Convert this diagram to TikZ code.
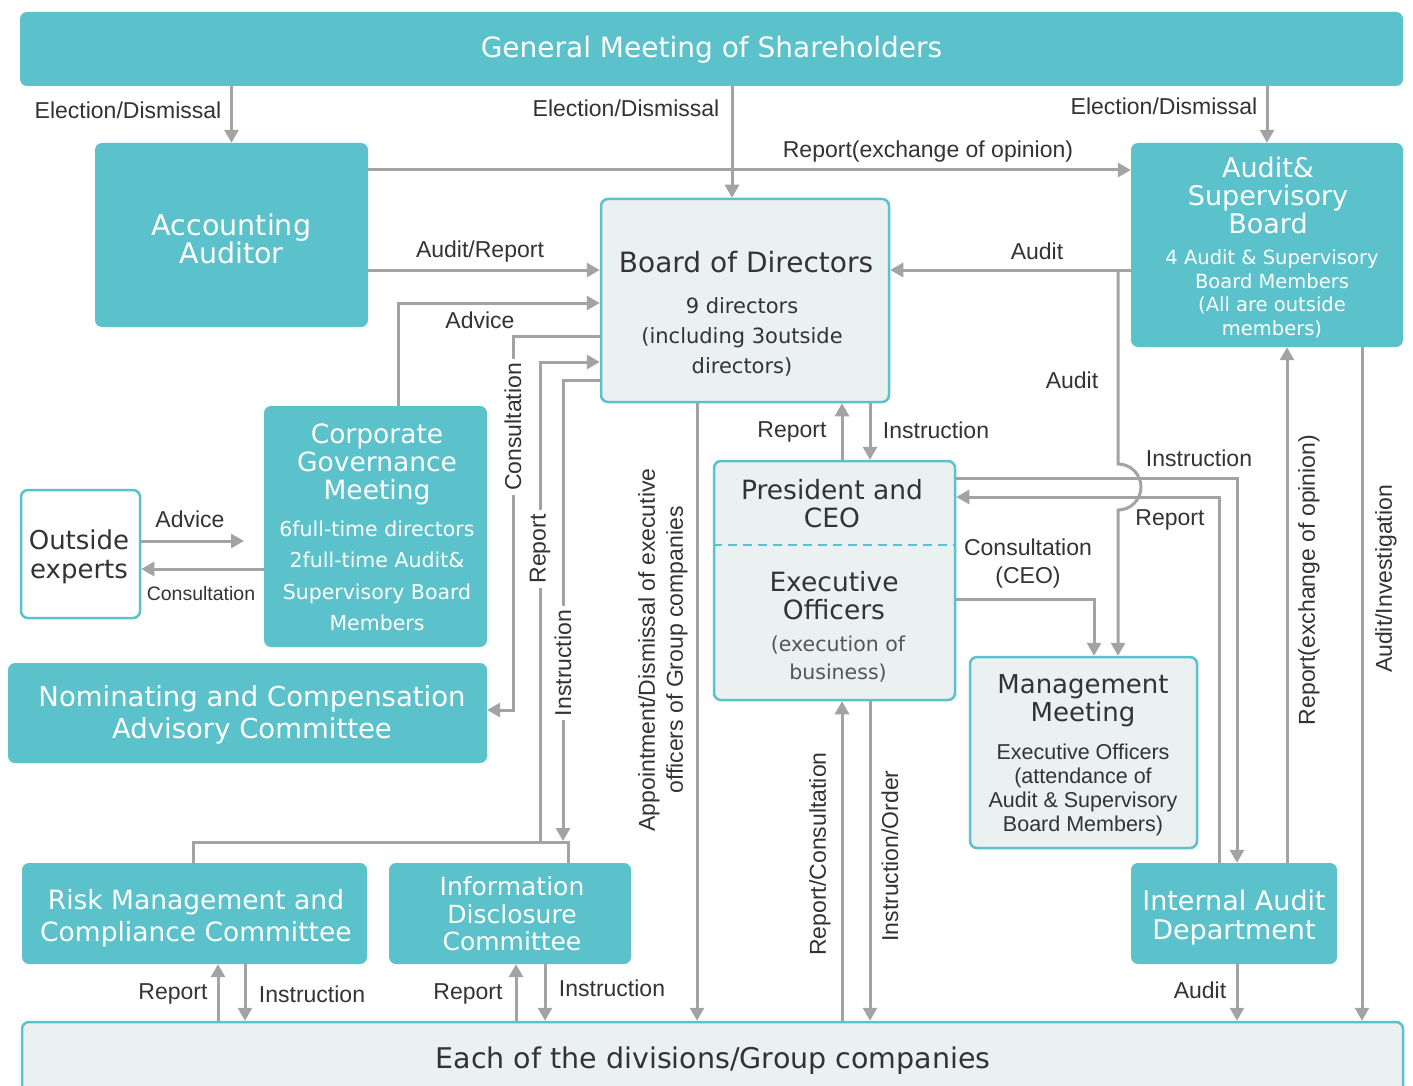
\documentclass[tikz,border=0pt]{standalone}
\usepackage{fontspec}
\setmainfont{DejaVu Sans}
\newfontfamily\bxf{DejaVu Sans}
\newfontfamily\lbf{Liberation Sans}
\usetikzlibrary{arrows.meta}
\definecolor{teal1}{HTML}{5BC2CB}
\definecolor{lightfill}{HTML}{EBF1F1}
\definecolor{linegray}{HTML}{A3A3A3}
\definecolor{txt}{HTML}{333333}
\definecolor{txtl}{HTML}{555555}
\newcommand\fsz[2]{\fontsize{#1}{#2}\selectfont}
\begin{document}
\begin{tikzpicture}[x=1pt,y=-1pt,
  tealbox/.style={fill=teal1, draw=none, rounded corners=7pt, inner sep=0pt},
  lightbox/.style={fill=lightfill, draw=teal1, line width=2.5pt, rounded corners=7pt, inner sep=0pt},
  whitebox/.style={fill=white, draw=teal1, line width=2.5pt, rounded corners=7pt, inner sep=0pt},
  wt/.style={text=white, align=center, inner sep=0pt},
  dk/.style={text=txt, align=center, inner sep=0pt},
  lbl/.style={text=txt, font=\lbf\fsz{23}{26}, inner sep=1pt},
  vlbl/.style={lbl, rotate=90},
  brk/.style={vlbl, fill=white, inner sep=4pt},
  conn/.style={draw=linegray, line width=3pt},
  arr/.style={conn, -{Triangle[length=13pt,width=14pt]}},
]
\useasboundingbox (0,0) rectangle (1413,1086);
\fill[white] (0,0) rectangle (1413,1086);

% ---------- boxes ----------
\node[tealbox, minimum width=1383pt, minimum height=74pt] (gm) at (711.5,49) {};
\node[wt, font=\bxf\fsz{28}{28}] (gmt) at (711.5,50) {General Meeting of Shareholders};

\node[tealbox, minimum width=273pt, minimum height=184pt] (aa) at (231.5,235) {};
\node[wt, font=\bxf\fsz{28.5}{28}] (aat) at (231.5,239) {Accounting\\Auditor};

\node[lightbox, minimum width=288pt, minimum height=203pt] (bod) at (745,300.5) {};
\node[dk, font=\bxf\fsz{28}{28}] (bodt) at (746,262) {Board of Directors};
\node[dk, font=\bxf\fsz{21}{30}] (bods) at (742,337) {9 directors\\(including 3outside\\directors)};

\node[tealbox, minimum width=272pt, minimum height=204pt] (asb) at (1267,245) {};
\node[wt, font=\bxf\fsz{27}{28}] (asbt) at (1268,195) {Audit\&\\Supervisory\\Board};
\node[wt, font=\bxf\fsz{19.5}{23.5}] (asbs) at (1272,294) {4 Audit \& Supervisory\\Board Members\\(All are outside\\members)};

\node[tealbox, minimum width=223pt, minimum height=241pt] (cgm) at (375.5,526.5) {};
\node[wt, font=\bxf\fsz{26.5}{28}] (cgmt) at (377,464) {Corporate\\Governance\\Meeting};
\node[wt, font=\bxf\fsz{20.5}{31.5}] (cgms) at (377,576) {6full-time directors\\2full-time Audit\&\\Supervisory Board\\Members};

\node[whitebox, minimum width=119pt, minimum height=128pt] (oe) at (80.5,554) {};
\node[dk, font=\bxf\fsz{26}{29}] (oet) at (79,557) {Outside\\experts};

\node[tealbox, minimum width=479pt, minimum height=100pt] (ncac) at (247.5,713) {};
\node[wt, font=\bxf\fsz{27.5}{32}] (ncact) at (252,715) {Nominating and Compensation\\Advisory Committee};

\node[lightbox, minimum width=241pt, minimum height=239pt] (ceo) at (834.5,580.5) {};
\draw[teal1, line width=2.5pt, dash pattern=on 9pt off 6pt] (ceo.west |- 0,545) -- (ceo.east |- 0,545);
\node[dk, font=\bxf\fsz{26.5}{28}] (ceot) at (832,504) {President and\\CEO};
\node[dk, font=\bxf\fsz{26.5}{28}] (eot) at (834,596) {Executive\\Officers};
\node[text=txtl, align=center, inner sep=0pt, font=\bxf\fsz{20.5}{28}] (eos) at (838,659) {(execution of\\business)};

\node[lightbox, minimum width=227pt, minimum height=191pt] (mm) at (1083.5,752.5) {};
\node[dk, font=\bxf\fsz{26}{28}] (mmt) at (1083,701) {Management\\Meeting};
\node[dk, font=\lbf\fsz{21.5}{24}] (mms) at (1083,790) {Executive Officers\\(attendance of\\Audit \& Supervisory\\Board Members)};

\node[tealbox, minimum width=345pt, minimum height=101pt] (rmc) at (194.5,913.5) {};
\node[wt, font=\bxf\fsz{26.5}{32}] (rmct) at (196,918) {Risk Management and\\Compliance Committee};

\node[tealbox, minimum width=242pt, minimum height=101pt] (idc) at (510,913.5) {};
\node[wt, font=\bxf\fsz{25}{27.5}] (idct) at (512,914) {Information\\Disclosure\\Committee};

\node[tealbox, minimum width=206pt, minimum height=101pt] (iad) at (1234,913.5) {};
\node[wt, font=\bxf\fsz{27}{29}] (iadt) at (1234,918) {Internal Audit\\Department};

\node[lightbox, minimum width=1381pt, minimum height=76pt] (div) at (712.5,1060) {};
\node[dk, font=\bxf\fsz{28.5}{28}] (divt) at (713,1061) {Each of the divisions/Group companies};

% ---------- connectors ----------
% from the General Meeting
\draw[arr] (gm.south -| aa.north) -- (aa.north);
\node[lbl] (l1) at (128,110) {Election/Dismissal};
\draw[arr] (gm.south -| 732,0) -- (bod.north -| 732,0);
\node[lbl] (l2) at (626,108) {Election/Dismissal};
\draw[arr] (gm.south -| asb.north) -- (asb.north);
\node[lbl] (l3) at (1164,106) {Election/Dismissal};

% accounting auditor
\draw[arr] (aa.east |- 0,170) -- (asb.west |- 0,170);
\node[lbl] (l4) at (928,152) {Report(exchange of opinion)};
\draw[arr] (aa.east |- 0,270) -- (bod.west |- 0,270);
\node[lbl] (l5) at (480,252) {Audit/Report};

% corporate governance meeting
\draw[arr] (cgm.north -| 398,0) -- (398,303) -- (bod.west |- 0,303);
\node[lbl] (l6) at (480,320) {Advice};

% board <-> committees
\draw[arr] (bod.west |- 0,336) -- (513,336) -- (513,710) -- (ncac.east |- 0,710);
\node[brk] (l7) at (513,427) {Consultation};
\draw[conn] (rmc.north -| 193,0) -- (193,842) -- (568,842) -- (idc.north -| 568,0);
\draw[arr] (540,842) -- (540,362) -- (bod.west |- 0,362);
\node[brk] (l8) at (540,549) {Report};
\draw[arr] (bod.west |- 0,380) -- (563,380) -- (563,841);
\node[brk] (l9) at (563,663) {Instruction};

% appointment
\draw[arr] (bod.south -| 697,0) -- (div.north -| 697,0);
\node[vlbl, align=center, font=\lbf\fsz{23}{28}] (l10) at (663,650) {Appointment/Dismissal of executive\\officers of Group companies};

% board <-> president
\draw[arr] (bod.south -| 870,0) -- (ceo.north -| 870,0);
\node[lbl] (l11) at (936,430) {Instruction};
\draw[arr] (ceo.north -| 842,0) -- (bod.south -| 842,0);
\node[lbl] (l12) at (792,432) {Report};

% audit & supervisory board
\draw[arr] (asb.west |- 0,270) -- (bod.east |- 0,270);
\node[lbl] (l13) at (1037,251) {Audit};
\coordinate (auditbr) at (1118,270);
\draw[arr] (auditbr) -- (1118,464) arc[start angle=-90, end angle=90, radius=23] -- (mm.north -| 1118,0);
\node[lbl] (l14) at (1072,380) {Audit};

% president <-> internal audit
\draw[arr] (ceo.east |- 0,478) -- (1237,478) -- (iad.north -| 1237,0);
\node[lbl] (l15) at (1199,458) {Instruction};
\draw[arr] (iad.north -| 1219,0) -- (1219,497) -- (ceo.east |- 0,497);
\node[lbl] (l16) at (1170,520) {Report};

% consultation to management meeting
\draw[arr] (ceo.east |- 0,599) -- (1094,599) -- (mm.north -| 1094,0);
\node[lbl, align=center, font=\lbf\fsz{23}{28}] (l17) at (1028,564) {Consultation\\(CEO)};

% right side verticals
\draw[arr] (iad.north -| 1287,0) -- (asb.south -| 1287,0);
\node[vlbl] (l18) at (1309,580) {Report(exchange of opinion)};
\draw[arr] (asb.south -| 1362,0) -- (div.north -| 1362,0);
\node[vlbl] (l19) at (1386,579) {Audit/Investigation};
\draw[arr] (iad.south -| 1237,0) -- (div.north -| 1237,0);
\node[lbl] (l20) at (1200,990) {Audit};

% executive <-> divisions
\draw[arr] (div.north -| 842,0) -- (ceo.south -| 842,0);
\node[vlbl] (l21) at (820,854) {Report/Consultation};
\draw[arr] (ceo.south -| 870,0) -- (div.north -| 870,0);
\node[vlbl] (l22) at (890,856) {Instruction/Order};

% committees <-> divisions
\draw[arr] (div.north -| 218,0) -- (rmc.south -| 218,0);
\node[lbl] (l23) at (173,994) {Report};
\draw[arr] (rmc.south -| 245,0) -- (div.north -| 245,0);
\node[lbl] (l24) at (312,994) {Instruction};
\draw[arr] (div.north -| 516,0) -- (idc.south -| 516,0);
\node[lbl] (l25) at (468,994) {Report};
\draw[arr] (idc.south -| 545,0) -- (div.north -| 545,0);
\node[lbl] (l26) at (612,988) {Instruction};

% outside experts
\coordinate (advend) at (244,541);
\draw[arr] (oe.east |- 0,541) -- (advend);
\node[lbl] (l27) at (190,519) {Advice};
\draw[arr] (cgm.west |- 0,569) -- (oe.east |- 0,569);
\node[lbl, font=\lbf\fsz{19.5}{22}] (l28) at (201,594) {Consultation};
\end{tikzpicture}
\end{document}
